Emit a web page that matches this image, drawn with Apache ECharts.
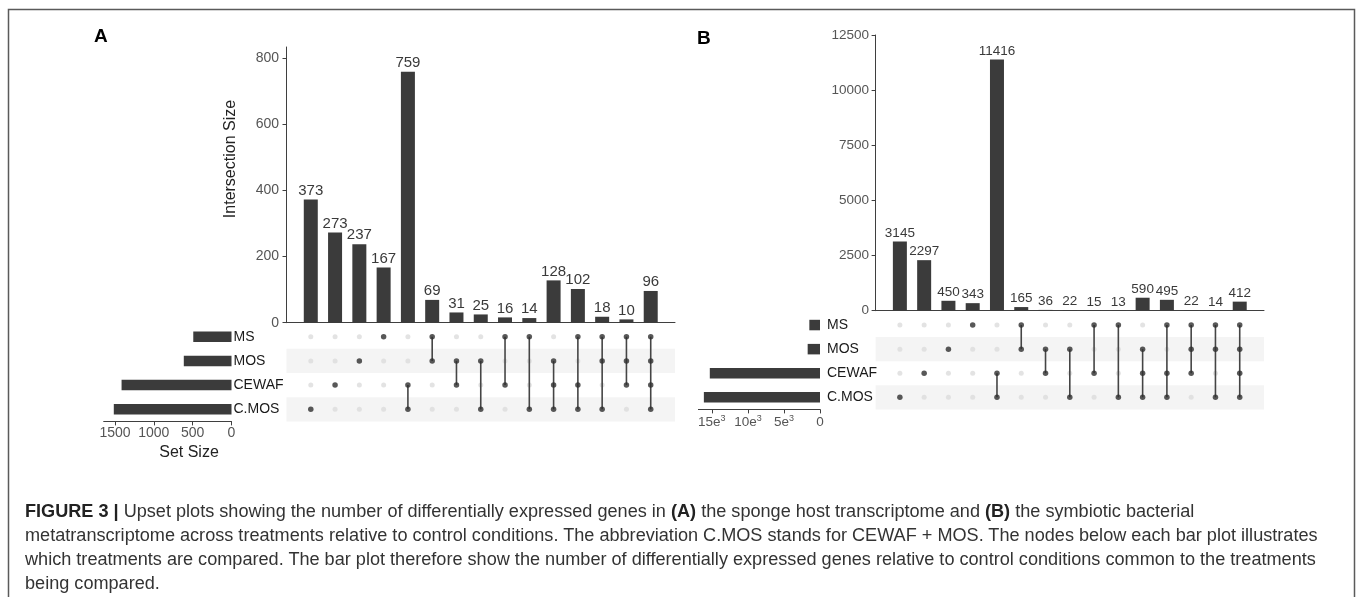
<!DOCTYPE html>
<html>
<head>
<meta charset="utf-8">
<script src="https://cdn.jsdelivr.net/npm/echarts@6/dist/echarts.min.js"></script>
<style>
  body { margin: 0; background: #fff; }
  #wrap { position: relative; width: 1358px; height: 597px; overflow: hidden; }
  #chart { position: absolute; left: 0; top: 0; width: 1358px; height: 597px; }
  #caption {
    position: absolute; left: 25px; top: 499px;
    font-family: "Liberation Sans", Arial, sans-serif; font-size: 18.12px; line-height: 24px;
    color: #333; white-space: nowrap;
  }
  #caption b { color: #222; }
</style>
</head>
<body>
<div id="wrap">
  <div id="chart"></div>
  <div id="caption">
    <b>FIGURE 3 |</b> Upset plots showing the number of differentially expressed genes in <b>(A)</b> the sponge host transcriptome and <b>(B)</b> the symbiotic bacterial<br>
    metatranscriptome across treatments relative to control conditions. The abbreviation C.MOS stands for CEWAF + MOS. The nodes below each bar plot illustrates<br>
    which treatments are compared. The bar plot therefore show the number of differentially expressed genes relative to control conditions common to the treatments<br>
    being compared.
  </div>
</div>
<script>
(function () {
    "use strict";

    const setNames = ['MS', 'MOS', 'CEWAF', 'C.MOS'];

    // panel A - sponge host
    const countsA = [373, 273, 237, 167, 759, 69, 31, 25, 16, 14, 128, 102, 18, 10, 96];
    const combosA = [
        ['C.MOS'], ['CEWAF'], ['MOS'], ['MS'], ['CEWAF', 'C.MOS'],
        ['MS', 'MOS'], ['MOS', 'CEWAF'], ['MOS', 'C.MOS'], ['MS', 'CEWAF'], ['MS', 'C.MOS'],
        ['MOS', 'CEWAF', 'C.MOS'], ['MS', 'CEWAF', 'C.MOS'], ['MS', 'MOS', 'C.MOS'], ['MS', 'MOS', 'CEWAF'],
        ['MS', 'MOS', 'CEWAF', 'C.MOS']
    ];
    const setSizeA = [492, 614, 1415, 1515];
    const yTicksA = [0, 200, 400, 600, 800];
    const sizeTicksA = [0, 500, 1000, 1500];

    // panel B - bacterial metatranscriptome
    const countsB = [3145, 2297, 450, 343, 11416, 165, 36, 22, 15, 13, 590, 495, 22, 14, 412];
    const combosB = [
        ['C.MOS'], ['CEWAF'], ['MOS'], ['MS'], ['CEWAF', 'C.MOS'],
        ['MS', 'MOS'], ['MOS', 'CEWAF'], ['MOS', 'C.MOS'], ['MS', 'CEWAF'], ['MS', 'C.MOS'],
        ['MOS', 'CEWAF', 'C.MOS'], ['MS', 'CEWAF', 'C.MOS'], ['MS', 'MOS', 'CEWAF'], ['MS', 'MOS', 'C.MOS'],
        ['MS', 'MOS', 'CEWAF', 'C.MOS']
    ];
    const setSizeB = [1479, 1711, 15283, 16107];
    const yTicksB = [0, 2500, 5000, 7500, 10000, 12500];
    const sizeTicksB = [0, 5000, 10000, 15000];

    const FONT = '"Liberation Sans", Arial, sans-serif';
    const BAR = '#3b3b3b';
    const AXIS = '#3f3f3f';

    let option = {
        animation: false,
        backgroundColor: '#fff',
        grid: [],
        xAxis: [],
        yAxis: [],
        series: [],
        graphic: []
    };

    function plain(v) {
        return String(v);
    }

    function addPanel(p) {
        const g = option.grid.length;
        option.grid.push(
            { left: p.left, top: p.barTop, width: p.width, height: p.barBottom - p.barTop },
            { left: p.left, top: p.matTop, width: p.width, height: p.matHeight },
            { left: p.sizeLeft, top: p.matTop, width: p.sizeWidth, height: p.matHeight }
        );
        // x axes
        option.xAxis.push(
            { gridIndex: g, type: 'value', min: 0, max: 16, axisLine: { show: true, lineStyle: { color: AXIS, width: 1 } },
              axisTick: { show: false }, axisLabel: { show: false }, splitLine: { show: false } },
            { gridIndex: g + 1, type: 'value', min: 0, max: 16, show: false },
            { gridIndex: g + 2, type: 'value', min: 0, max: p.sizeMax, inverse: true,
              axisLine: { show: true, lineStyle: { color: AXIS, width: 1 } },
              axisTick: { show: true, length: 4, lineStyle: { color: AXIS }, customValues: p.sizeTicks },
              axisLabel: { show: true, margin: 5, fontSize: p.tickFont, color: '#555', fontFamily: FONT,
                           customValues: p.sizeTicks, formatter: p.sizeFormatter || plain, rich: p.rich },
              splitLine: { show: false } }
        );
        // y axes
        option.yAxis.push(
            { gridIndex: g, type: 'value', min: 0, max: p.yMax,
              axisLine: { show: true, lineStyle: { color: AXIS, width: 1 } },
              axisTick: { show: true, length: 4, lineStyle: { color: AXIS }, customValues: p.yTicks },
              axisLabel: { margin: p.yLabelMargin, fontSize: p.tickFont, color: '#555', fontFamily: FONT,
                           customValues: p.yTicks, formatter: plain },
              splitLine: { show: false } },
            { gridIndex: g + 1, type: 'category', data: setNames, inverse: true,
              axisLine: { show: false }, axisTick: { show: false }, axisLabel: { show: false },
              splitArea: { show: true, areaStyle: { color: ['rgba(255,255,255,0)', '#f4f4f4'] } } },
            { gridIndex: g + 2, type: 'category', data: setNames, inverse: true, position: 'right',
              axisLine: { show: false }, axisTick: { show: false },
              axisLabel: { margin: p.setLabelMargin, fontSize: 14, color: '#1a1a1a', fontFamily: FONT } }
        );

        const greyDots = [];
        const blackDots = [];
        const links = [];
        p.combos.forEach(function (combo, i) {
            setNames.forEach(function (s) {
                if (combo.indexOf(s) >= 0) {
                    blackDots.push([i + 1, s]);
                } else {
                    greyDots.push([i + 1, s]);
                }
            });
            const idx = combo.map(s => setNames.indexOf(s));
            if (idx.length > 1) {
                links.push([i + 1, Math.min.apply(null, idx), Math.max.apply(null, idx)]);
            }
        });

        option.series.push(
            { type: 'bar', xAxisIndex: g, yAxisIndex: g, barWidth: 14, itemStyle: { color: BAR },
              data: p.counts.map((v, i) => [i + 1, v]),
              label: { show: true, position: 'top', distance: 1.5, fontSize: p.valueFont, color: '#3a3a3a', fontFamily: FONT,
                       formatter: params => params.value[1] } },
            { type: 'scatter', xAxisIndex: g + 1, yAxisIndex: g + 1, symbolSize: 5, z: 2,
              itemStyle: { color: '#dcdcdc' }, data: greyDots },
            { type: 'custom', xAxisIndex: g + 1, yAxisIndex: g + 1, z: 3, data: links,
              renderItem: function (params, api) {
                  const a = api.coord([api.value(0), api.value(1)]);
                  const b = api.coord([api.value(0), api.value(2)]);
                  return { type: 'line', shape: { x1: a[0], y1: a[1], x2: b[0], y2: b[1] },
                           style: { stroke: '#454545', lineWidth: 1.6 } };
              } },
            { type: 'scatter', xAxisIndex: g + 1, yAxisIndex: g + 1, symbolSize: 5.5, z: 4,
              itemStyle: { color: '#2e2e2e' }, data: blackDots },
            { type: 'bar', xAxisIndex: g + 2, yAxisIndex: g + 2, barWidth: 10.5, itemStyle: { color: BAR },
              data: p.setSizes }
        );
    }

    addPanel({
        left: 286.5, width: 388.5, barTop: 47, barBottom: 322.7, yMax: 834,
        matTop: 324.6, matHeight: 96.8,
        sizeLeft: 103.7, sizeWidth: 127.8, sizeMax: 1645,
        counts: countsA, combos: combosA, setSizes: setSizeA,
        yTicks: yTicksA, sizeTicks: sizeTicksA,
        tickFont: 14, valueFont: 15, yLabelMargin: 7.5, setLabelMargin: 2
    });

    addPanel({
        left: 875.6, width: 388.4, barTop: 35, barBottom: 310.7, yMax: 12532,
        matTop: 313, matHeight: 96.4,
        sizeLeft: 698.4, sizeWidth: 121.6, sizeMax: 16865,
        counts: countsB, combos: combosB, setSizes: setSizeB,
        yTicks: yTicksB, sizeTicks: sizeTicksB,
        tickFont: 13.5, valueFont: 13.5, yLabelMargin: 6.6, setLabelMargin: 7,
        sizeFormatter: function (v) {
            return v === 0 ? '{n|0}' : '{n|' + (v / 1000) + 'e}{sup|3}';
        },
        rich: {
            n: { fontSize: 13.5, color: '#555', fontFamily: FONT, lineHeight: 16 },
            sup: { fontSize: 9, color: '#555', fontFamily: FONT, lineHeight: 8, verticalAlign: 'top' }
        }
    });

    option.graphic = [
        { type: 'rect', silent: true, z: 0, shape: { x: 8.5, y: 9.5, width: 1346, height: 700 },
          style: { fill: 'none', stroke: '#5a5a5a', lineWidth: 1.5 } },
        { type: 'text', x: 94, y: 27, style: { text: 'A', font: 'bold 19px ' + FONT, fill: '#000' } },
        { type: 'text', x: 697, y: 29, style: { text: 'B', font: 'bold 19px ' + FONT, fill: '#000' } },
        { type: 'text', x: 230.6, y: 159, rotation: Math.PI / 2,
          style: { text: 'Intersection Size', font: '16px ' + FONT, fill: '#222', align: 'center', verticalAlign: 'middle' } },
        { type: 'text', x: 189, y: 453,
          style: { text: 'Set Size', font: '16px ' + FONT, fill: '#222', align: 'center', verticalAlign: 'middle' } }
    ];

    let myChart = echarts.init(document.getElementById('chart'));
    myChart.setOption(option);
})();
</script>
</body>
</html>
